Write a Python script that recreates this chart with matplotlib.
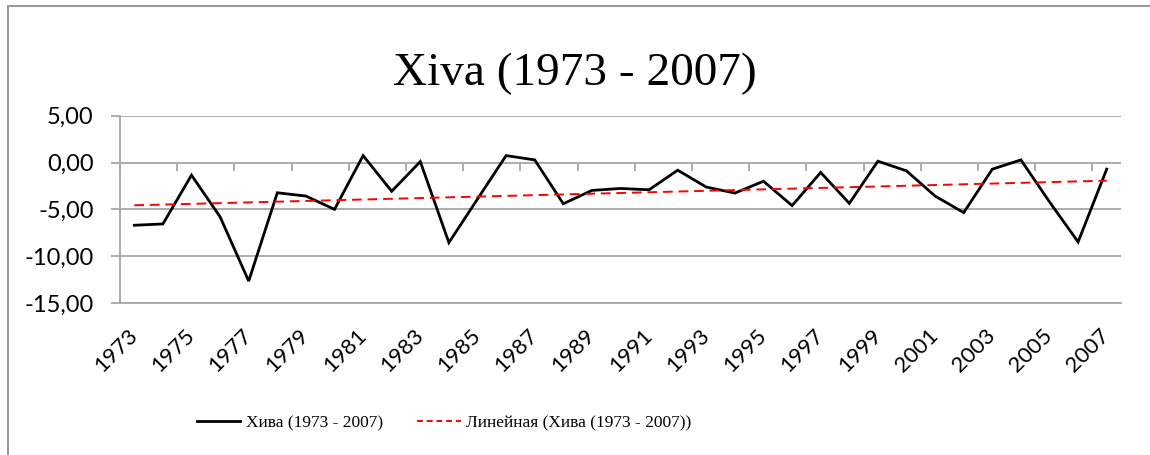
import numpy as np
import matplotlib
matplotlib.use('Agg')
import matplotlib.pyplot as plt
from matplotlib.patches import Rectangle

# yearly values
years = list(range(1973, 2008))
values = [-6.70, -6.56, -1.35, -5.80, -12.66, -3.23, -3.58, -5.00, 0.74, -3.07,
          0.10, -8.55, -3.90, 0.74, 0.28, -4.40, -2.98, -2.77, -2.91, -0.82,
          -2.62, -3.26, -2.00, -4.60, -1.06, -4.36, 0.14, -0.89, -3.58, -5.35,
          -0.71, 0.28, -4.20, -8.48, -0.71]
yticks = [5, 0, -5, -10, -15]

title = 'Xiva (1973 - 2007)'
series_label = 'Хива (1973 - 2007)'
trend_label = 'Линейная (Хива (1973 - 2007))'

W, H = 1150, 455
fig = plt.figure(figsize=(W / 100, H / 100), dpi=100)

# outer chart border (only top and left visible in the reference)
fig.patches.append(Rectangle((8 / W, -0.1), 1.2, (H - 6.5) / H + 0.1,
                             transform=fig.transFigure, fill=False,
                             edgecolor='#9a9a9a', linewidth=1.5))

ax = fig.add_axes([120 / W, (H - 303) / H, (1121 - 120) / W, (303 - 115.7) / H])

x = np.arange(len(years))
ax.plot(x, values, color='black', linewidth=2.0, solid_joinstyle='miter', zorder=3)

# linear trend, as Excel draws it
k, b = np.polyfit(x, values, 1)
ax.plot(x, k * x + b, color='#ff0000', linewidth=1.4, linestyle=(0, (5, 3)), zorder=4)

ax.set_xlim(-0.5, len(years) - 0.5)
ax.set_ylim(-15, 5)

grid_c = '#a6a6a6'
ax.set_yticks(yticks)
ax.set_yticklabels([f'{v:.2f}'.replace('.', ',') for v in yticks],
                   family='Lato', fontsize=17)
ax.yaxis.grid(True, color=grid_c, linewidth=1.3)
ax.tick_params(axis='y', length=6.5, width=1.3, color=grid_c, pad=12.5)

ax.set_xticks(x[::2])
ax.set_xticklabels([str(y) for y in years[::2]], family='Lato', fontsize=16,
                   rotation=45, ha='right', va='center', rotation_mode='anchor')
ax.tick_params(axis='x', length=0, pad=21)

for s in ['top', 'right']:
    ax.spines[s].set_visible(False)
for s in ['left', 'bottom']:
    ax.spines[s].set_color(grid_c)
    ax.spines[s].set_linewidth(1.3)

# category axis crosses at y = 0, tick marks between every second category
sec = ax.secondary_xaxis(0.75)
sec.set_xticks(np.arange(-0.5, len(years), 2))
sec.tick_params(axis='x', direction='out', length=6, width=1.3, color=grid_c,
                labelbottom=False, labeltop=False, bottom=True, top=False)
sec.spines['bottom'].set_color(grid_c)
sec.spines['bottom'].set_linewidth(1.3)
for s in ['top', 'left', 'right']:
    sec.spines[s].set_visible(False)

fig.text(0.5, (H - 85) / H, title, family='Liberation Serif', fontsize=34,
         ha='center', va='baseline')

h1, = ax.plot([], [], color='black', linewidth=2.0)
h2, = ax.plot([], [], color='#ff0000', linewidth=1.4, linestyle=(0, (3, 2)))
fig.legend([h1, h2], [series_label, trend_label], loc='center left',
           bbox_to_anchor=(197 / W, (H - 423) / H), ncol=2, frameon=False,
           prop={'family': 'Liberation Serif', 'size': 12.5},
           borderpad=0, borderaxespad=0,
           handlelength=2.5, handletextpad=0.3, columnspacing=2.0)

fig.savefig('out.png', dpi=100)
